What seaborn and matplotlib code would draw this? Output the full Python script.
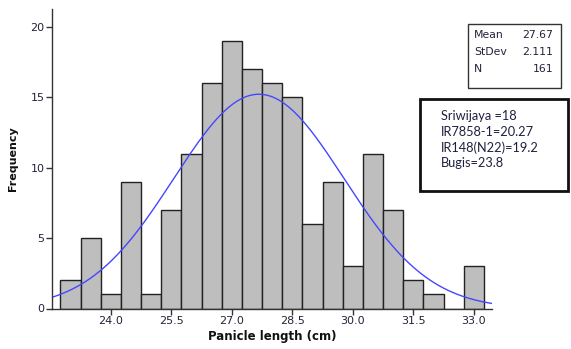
import numpy as np
import pandas as pd
import matplotlib
matplotlib.use("Agg")
import matplotlib.pyplot as plt
import matplotlib.patches as mpatches
import seaborn as sns

# ---- data ----
bin_centers = [23.0, 23.5, 24.0, 24.5, 25.0, 25.5, 26.0, 26.5, 27.0, 27.5, 28.0,
               28.5, 29.0, 29.5, 30.0, 30.5, 31.0, 31.5, 32.0, 32.5, 33.0]
counts = [2, 5, 1, 9, 1, 7, 11, 16, 19, 17, 16, 15, 6, 9, 3, 11, 7, 2, 1, 0, 3]
x_ticks = [24.0, 25.5, 27.0, 28.5, 30.0, 31.5, 33.0]
y_ticks = [0, 5, 10, 15, 20]
stat_labels = ["Mean", "StDev", "N"]
stat_values = ["27.67", "2.111", "161"]
mean_val, sd_val, n_val = 27.67, 2.111, 161
note_lines = ["Sriwijaya =18", "IR7858-1=20.27", "IR148(N22)=19.2", "Bugis=23.8"]
bin_width = 0.5

sns.set_theme(style="white")
plt.rcParams['font.family'] = ['DejaVu Sans']

W, H = 571, 349
fig = plt.figure(figsize=(W / 100, H / 100), dpi=100)
ax = fig.add_axes([52 / W, 1 - 308.5 / H, 440 / W, 300 / H])

df = pd.DataFrame({"x": bin_centers, "n": counts})
sns.histplot(data=df, x="x", weights="n", binwidth=bin_width,
             binrange=(bin_centers[0] - bin_width / 2, bin_centers[-1] + bin_width / 2),
             color="#BEBEBE", edgecolor="#222222", linewidth=1.0, alpha=1.0, ax=ax)

xlo, xhi = 22.54, 33.45
xs = np.linspace(xlo, xhi, 300)
ys = n_val * bin_width / (sd_val * np.sqrt(2 * np.pi)) * np.exp(-0.5 * ((xs - mean_val) / sd_val) ** 2)
sns.lineplot(x=xs, y=ys, color="#4646ff", linewidth=1.0, ax=ax)

ax.set_xlim(xlo, xhi)
ax.set_ylim(0, 21.3)
ax.set_xticks(x_ticks)
ax.set_xticklabels([f"{t:.1f}" for t in x_ticks])
ax.set_yticks(y_ticks)
ax.set_yticklabels([str(t) for t in y_ticks])
tick_color = "#22223a"
ax.tick_params(axis="both", direction="out", length=4, width=1, color="#333333",
               labelsize=8, labelcolor=tick_color, pad=1.5, bottom=True, left=True)
for s in ["top", "right"]:
    ax.spines[s].set_visible(False)
for s in ["left", "bottom"]:
    ax.spines[s].set_color("#333333")
    ax.spines[s].set_linewidth(1.0)

ax.set_xlabel("Panicle length (cm)", fontsize=8.5, fontweight="bold", color="#111111", labelpad=3)
ax.set_ylabel("Frequency", fontsize=8, fontweight="bold", color="#111111", labelpad=9)
ax.grid(False)

# ---- stats box ----
def fx(px):
    return px / W

def fy(py):
    return 1 - py / H

fig.patches.append(mpatches.Rectangle((fx(468), fy(88)), (561 - 468) / W, (88 - 24) / H,
                                      transform=fig.transFigure, fill=False,
                                      edgecolor="#333333", linewidth=1.0))
for i, (lab, val) in enumerate(zip(stat_labels, stat_values)):
    yy = fy(35 + 17 * i)
    fig.text(fx(474), yy, lab, fontsize=7.8, color=tick_color, va="center", ha="left")
    fig.text(fx(553), yy, val, fontsize=7.8, color=tick_color, va="center", ha="right")

# ---- notes box ----
fig.patches.append(mpatches.Rectangle((fx(420), fy(191)), (568 - 420) / W, (191 - 99) / H,
                                      transform=fig.transFigure, fill=False,
                                      edgecolor="#111111", linewidth=2.0))
for i, line in enumerate(note_lines):
    fig.text(fx(441), fy(116 + 15.8 * i), line, fontsize=9.2, color="#1f2040",
             va="center", ha="left", family=["Lato", "DejaVu Sans"])

fig.savefig("out.png", dpi=100, facecolor="white")
